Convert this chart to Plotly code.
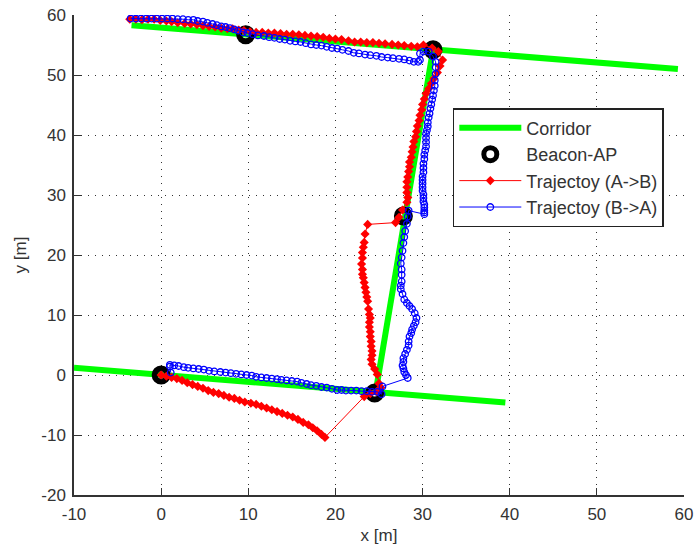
import plotly.graph_objects as go

corridor_x = [-10, 24.5, 39.5, None, 24.6, 31.2, None, -3.4, 31.2, 59.3]
corridor_y = [1.2, -3.0, -4.6, None, -3.0, 54.2, None, 58.3, 54.3, 51.0]

beacon_x = [0, 9.7, 31.2, 27.8, 24.5]
beacon_y = [0, 56.7, 54.2, 26.5, -3.0]

red_x = [0.0, 0.6, 1.2, 1.8, 2.4, 3.0, 3.6, 4.2, 4.8, 5.4, 6.0, 6.6, 7.2, 7.8, 8.4, 9.0, 9.6, 10.3, 10.9, 11.5,
         12.1, 12.7, 13.3, 13.9, 14.5, 15.1, 15.7, 16.3, 16.9, 17.4, 17.9, 18.4, 18.8,
         23.3, 24.0, 24.7, 25.2, 25.0, 24.8, 24.5, 24.2, 24.1, 24.2, 24.2, 24.1, 24.1, 24.0, 24.0, 23.9, 23.9, 24.0,
         23.9, 23.8, 23.7, 23.6, 23.5, 23.4, 23.3, 23.2, 23.1, 23.1, 23.0, 23.1, 23.1, 23.2, 23.3, 23.4, 23.7,
         26.9, 27.3, 27.7, 28.2, 28.3, 28.2, 28.2, 28.2, 28.3, 28.4, 28.5, 28.5, 28.7, 28.8, 28.9, 29.0, 29.2, 29.3,
         29.4, 29.6, 29.7, 29.9, 30.0, 30.2, 30.4, 30.7, 31.0, 31.3, 31.7, 32.0, 32.3,
         31.8, 31.1, 30.1, 29.4, 28.7, 27.9, 27.2, 26.5, 25.7, 25.0, 24.3, 23.6, 22.9, 22.2, 21.5, 20.7, 20.0, 19.3,
         18.6, 17.9, 17.2, 16.5, 15.8, 15.1, 14.4, 13.7, 13.0, 12.3, 11.6, 10.9, 10.2, 9.5, 8.9, 8.2, 7.6, 6.9, 6.2,
         5.5, 4.8, 4.1, 3.4, 2.7, 1.9, 1.2, 0.6, -0.1, -0.8, -1.5, -2.2, -2.9, -3.6]
red_y = [0.0, -0.2, -0.4, -0.6, -0.9, -1.3, -1.6, -1.9, -2.2, -2.6, -2.9, -3.1, -3.4, -3.7, -3.9, -4.2, -4.5, -4.7, -4.9, -5.2,
         -5.5, -5.8, -6.1, -6.4, -6.7, -7.0, -7.4, -7.9, -8.3, -8.8, -9.3, -9.9, -10.4,
         -3.6, -3.1, -2.8, -2.1, -1.4, 0.1, 1.0, 1.8, 2.6, 3.3, 4.0, 4.8, 5.6, 6.4, 7.2, 8.0, 8.8, 9.5,
         10.1, 11.0, 12.3, 13.0, 13.8, 14.6, 15.4, 16.2, 16.8, 17.6, 18.5, 19.5, 20.4, 21.3, 22.1, 23.5, 25.1,
         25.4, 26.3, 27.5, 28.8, 29.6, 30.4, 31.3, 32.2, 33.0, 33.9, 34.7, 35.5, 36.3, 37.2, 38.0, 38.9, 39.7, 40.6,
         41.5, 42.4, 43.3, 44.2, 45.1, 46.0, 46.9, 47.7, 48.6, 49.4, 50.4, 51.5, 52.5,
         53.9, 54.5, 55.0, 54.7, 54.8, 54.9, 55.0, 55.1, 55.2, 55.3, 55.4, 55.4, 55.5, 55.5, 55.7, 55.9, 56.0, 56.1,
         56.3, 56.4, 56.5, 56.6, 56.7, 56.8, 56.8, 56.9, 57.0, 57.0, 57.1, 57.1, 57.2, 57.4, 57.5, 57.7, 57.7, 57.8, 58.0,
         58.1, 58.2, 58.4, 58.5, 58.6, 58.7, 58.9, 59.0, 59.1, 59.3, 59.3, 59.2, 59.3, 59.3]

blue_x = [-3.5, -2.9, -2.3, -1.7, -1.1, -0.5, 0.1, 0.7, 1.3, 1.9, 2.5, 3.1, 3.7, 4.2, 4.8, 5.3, 5.9, 6.4, 6.9, 7.4, 7.9,
          8.4, 8.8, 9.4, 9.9, 10.5, 11.1, 11.8, 12.4, 13.0, 13.6, 14.2, 14.8, 15.4, 16.0, 16.6, 17.2, 17.8, 18.4, 19.0,
          19.6, 20.2, 20.8, 21.5, 22.1, 22.7, 23.4, 24.0, 24.7, 25.3, 26.0, 26.6, 27.3, 27.9, 28.5, 29.0, 29.5, 29.7, 29.7, 30.1, 30.7,
          31.2, 31.5, 31.5, 31.5, 31.4, 31.4, 31.3, 31.2, 31.1, 31.0, 30.9, 30.8, 30.7, 30.6, 30.6, 30.5, 30.4, 30.4, 30.4,
          30.4, 30.3, 30.2, 30.2, 30.1, 30.1, 30.1, 30.0, 30.0, 30.0, 30.0, 30.0, 30.1, 30.1, 30.1, 30.2, 30.2, 30.2, 30.2, 30.2,
          28.4, 28.3, 28.2, 28.0, 27.9, 27.8, 27.7, 27.6, 27.5, 27.6, 27.6, 27.6, 27.5, 27.5, 27.7, 27.9, 28.2, 28.5, 28.8, 29.1, 29.3,
          29.2, 29.0, 28.8, 28.7, 28.5, 28.4, 28.4, 28.2, 28.0, 27.8, 27.8, 27.7, 27.8, 27.9, 28.1, 28.3,
          25.4, 25.3, 24.8, 24.2, 23.6, 23.0, 22.4, 21.8, 21.2, 20.7, 20.2, 19.6, 19.0, 18.4, 17.8, 17.2, 16.7, 16.1, 15.6,
          15.0, 14.4, 13.8, 13.3, 12.7, 12.1, 11.5, 10.9, 10.4, 9.8, 9.2, 8.6, 8.0, 7.4, 6.8, 6.1, 5.5, 4.9, 4.3, 3.7, 3.1, 2.6, 2.0, 1.5, 1.0, 1.0, 1.1]
blue_y = [59.4, 59.4, 59.4, 59.4, 59.4, 59.4, 59.4, 59.4, 59.4, 59.3, 59.3, 59.2, 59.2, 59.0, 58.9, 58.7, 58.5, 58.3, 58.1, 58.0, 57.8,
          57.6, 57.4, 57.1, 57.0, 56.8, 56.6, 56.5, 56.3, 56.2, 56.0, 55.9, 55.7, 55.6, 55.5, 55.3, 55.1, 55.0, 54.9, 54.7,
          54.5, 54.4, 54.2, 54.0, 53.7, 53.6, 53.4, 53.3, 53.2, 53.0, 52.9, 52.8, 52.7, 52.6, 52.4, 52.2, 52.2, 52.5, 53.6, 53.9, 53.9,
          53.1, 52.2, 51.3, 50.2, 49.1, 48.2, 47.4, 46.6, 45.9, 45.1, 44.4, 43.6, 42.9, 42.1, 41.4, 40.8, 40.2, 39.5, 38.8,
          38.1, 37.4, 36.7, 36.0, 35.2, 34.5, 33.8, 33.1, 32.5, 31.9, 31.3, 30.7, 30.1, 29.5, 28.9, 28.4, 27.9, 27.4, 27.1, 26.8,
          27.4, 26.4, 25.2, 24.0, 23.0, 22.0, 20.7, 19.6, 18.6, 17.6, 16.7, 15.6, 14.9, 14.3, 13.5, 12.6, 12.0, 11.5, 11.0, 10.3, 9.5,
          8.8, 8.2, 7.6, 7.0, 6.4, 5.6, 4.9, 4.2, 3.5, 2.8, 2.2, 1.6, 1.1, 0.5, 0.0, -0.5,
          -1.9, -3.2, -2.8, -2.8, -2.7, -2.7, -2.6, -2.6, -2.6, -2.5, -2.5, -2.3, -2.1, -2.0, -1.8, -1.7, -1.5, -1.3, -1.1,
          -1.0, -0.9, -0.8, -0.7, -0.6, -0.5, -0.4, -0.3, -0.1, 0.0, 0.1, 0.2, 0.3, 0.4, 0.5, 0.6, 0.7, 0.9, 1.0, 1.1, 1.2, 1.3, 1.5, 1.6, 1.7, 1.4, 0.4]

x_ticks = [-10, 0, 10, 20, 30, 40, 50, 60]
x_labels = ["-10", "0", "10", "20", "30", "40", "50", "60"]
y_ticks = [-20, -10, 0, 10, 20, 30, 40, 50, 60]
y_labels = ["-20", "-10", "0", "10", "20", "30", "40", "50", "60"]

FONT = "Liberation Sans"
INK = "#333333"

fig = go.Figure()
fig.add_trace(go.Scatter(x=corridor_x, y=corridor_y, mode="lines", name="Corridor",
                         line=dict(color="#00ff00", width=6), legendgroup="a"))
fig.add_trace(go.Scatter(x=beacon_x, y=beacon_y, mode="markers", name="Beacon-AP", legendgroup="b",
                         marker=dict(symbol="circle-open", size=13, color="black", line=dict(color="black", width=6))))
fig.add_trace(go.Scatter(x=red_x, y=red_y, mode="lines+markers", name="Trajectoy (A->B)", legendgroup="c",
                         line=dict(color="#ff0000", width=1),
                         marker=dict(symbol="diamond", size=7, color="#ff0000")))
fig.add_trace(go.Scatter(x=blue_x, y=blue_y, mode="lines+markers", name="Trajectoy (B->A)", legendgroup="d",
                         line=dict(color="#0000ff", width=1),
                         marker=dict(symbol="circle-open", size=6.5, color="#0000ff", line=dict(color="#0000ff", width=1.3))))

axis = dict(showline=True, linecolor=INK, linewidth=1.5, mirror=False, ticks="inside", ticklen=7, tickwidth=1.3,
            tickcolor=INK, showgrid=True, gridcolor=INK, griddash="1px,6px", gridwidth=1,
            zeroline=False, ticklabelstandoff=3, tickfont=dict(family=FONT, size=17, color=INK))

fig.update_layout(
    width=694, height=547, paper_bgcolor="white", plot_bgcolor="white",
    margin=dict(l=74, r=10, t=15, b=52, autoexpand=False),
    font=dict(family=FONT, size=16, color=INK),
    xaxis=dict(axis, range=[-10, 60], tickmode="array", tickvals=x_ticks, ticktext=x_labels,
               title=dict(text="x [m]", standoff=6, font=dict(family=FONT, size=17, color=INK))),
    yaxis=dict(axis, range=[-20, 60], tickmode="array", tickvals=y_ticks, ticktext=y_labels,
               title=dict(text="y [m]", standoff=10, font=dict(family=FONT, size=17, color=INK))),
    legend=dict(x=0.621, y=0.806, xanchor="left", yanchor="top", bgcolor="white", bordercolor="#222222",
                borderwidth=1.5, itemwidth=62, tracegroupgap=0, entrywidth=137, entrywidthmode="pixels",
                font=dict(family=FONT, size=18, color=INK), itemsizing="trace"),
)
fig.write_html("out.html", config=dict(displayModeBar=False), post_script="document.body.style.margin='0';")
